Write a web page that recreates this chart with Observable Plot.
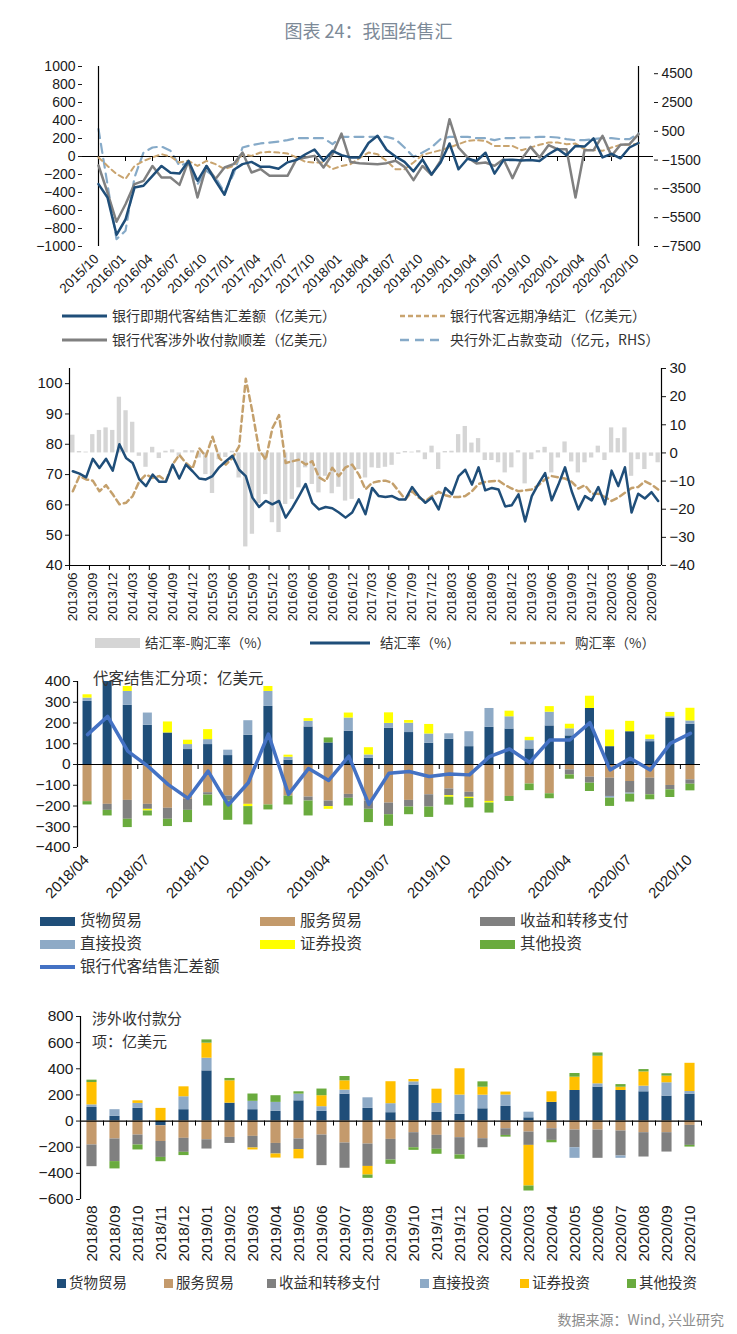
<!DOCTYPE html>
<html><head><meta charset="utf-8">
<script src="https://cdn.jsdelivr.net/npm/d3@7"></script>
<script src="https://cdn.jsdelivr.net/npm/@observablehq/plot@0.6"></script>
<style>
body{margin:0;background:#fff;}
#root{position:relative;width:737px;height:1334px;overflow:hidden;background:#fff;}
.lg{position:absolute;font-family:"Noto Sans CJK SC",sans-serif;color:#333;white-space:nowrap;line-height:1;}
</style></head><body><div id="root"></div>
<script>
// ---------------- DATA ----------------
// Panel 1 (2015/10 - 2020/10, monthly)
const p1TickLabels = ["2015/10","2016/01","2016/04","2016/07","2016/10","2017/01","2017/04","2017/07","2017/10","2018/01","2018/04","2018/07","2018/10","2019/01","2019/04","2019/07","2019/10","2020/01","2020/04","2020/07","2020/10"];
const p1LeftTicks = [-1000,-800,-600,-400,-200,0,200,400,600,800,1000];
const p1RightTicks = [-7500,-5500,-3500,-1500,500,2500,4500];
const p1Spot = [-307,-455,-870,-700,-345,-325,-215,-105,-180,-190,-50,-270,-105,-270,-425,-150,-85,-60,-115,-115,-135,-65,-37,25,78,-48,63,15,-10,-10,
  150,230,75,0,-60,-165,-32,-200,-70,145,-142,-25,-50,42,-190,-40,-35,-45,-40,-50,25,85,15,118,110,202,-10,30,-20,100,150];
const p1Flows = [-100,-400,-725,-530,-307,-270,-105,-233,-233,-315,-48,-455,-105,-250,-122,-85,44,-178,-140,-215,-215,-215,-30,-10,7,-122,26,255,-60,-74,
  -80,-85,-74,-48,-115,-263,-105,-204,-48,415,100,-10,-78,-67,-104,-30,-240,-30,107,-10,126,81,81,-455,70,70,230,7,130,137,248];
const p1Fwd = [-10,-105,-195,-250,-105,-50,-10,26,0,-67,-48,-105,-48,-85,-140,-105,26,7,44,52,44,33,-10,-60,-67,-67,-140,-105,-85,-19,
  44,26,-48,-141,-141,-67,18,44,70,100,137,174,181,174,118,118,118,70,100,130,155,155,137,144,81,70,63,100,130,130,144];
const p1PBoC = [650,-3200,-6990,-6410,-2710,-970,-625,-555,-855,-1900,-1665,-3170,-2245,-2710,-3750,-2475,-625,-465,-345,-280,-210,-115,25,25,25,25,-395,115,115,115,
  115,115,115,-45,-625,-1275,-970,-625,-45,115,115,115,25,25,-115,25,25,70,70,115,115,70,-45,-115,-115,-45,25,25,-45,-45,345];

// Panel 2 (2013/06 - 2020/10, monthly)
const p2TickLabels = ["2013/06","2013/09","2013/12","2014/03","2014/06","2014/09","2014/12","2015/03","2015/06","2015/09","2015/12","2016/03","2016/06","2016/09","2016/12","2017/03","2017/06","2017/09","2017/12","2018/03","2018/06","2018/09","2018/12","2019/03","2019/06","2019/09","2019/12","2020/03","2020/06","2020/09"];
const p2LeftTicks = [40,50,60,70,80,90,100];
const p2RightTicks = [-40,-30,-20,-10,0,10,20,30];
const p2Settle = [71.1,70.3,69.1,75.2,72.2,75.2,71.3,80.0,75.5,73.8,68.4,66.2,70.0,67.6,67.6,73.3,68.7,73.3,71.1,68.7,68.4,69.5,72.4,74.4,76.2,71.6,69.5,62.4,59.3,61.3,60.2,61.3,55.8,59.1,62.9,66.9,60.7,58.5,59.3,58.9,57.5,55.8,57.5,61.8,56.9,65.6,
  62.9,62.6,62.9,61.8,61.8,65.9,62.9,60.7,62.4,58.5,65.6,63.5,69.5,71.6,66.7,72.4,64.8,65.6,65.1,59.5,59.9,63.5,54.5,62.9,66.9,70.5,61.5,66.7,72.4,64.5,58.5,62.9,61.5,65.9,60.2,71.3,66.2,72.4,57.5,63.7,62.1,64.2,61.3];
const p2Purchase = [64.5,69.5,68.4,68.0,64.5,66.5,63.5,60.2,60.7,62.9,67.8,70.0,68.9,69.5,68.0,73.3,76.5,73.8,72.0,78.7,76.0,82.5,75.5,73.3,75.5,79.3,101.6,90.7,78.2,74.9,85.3,89.6,73.8,74.4,74.9,73.3,74.4,69.1,67.8,72.2,69.5,72.4,73.3,70.0,65.1,67.3,
  67.8,68.0,67.3,64.5,61.8,64.5,62.4,61.3,62.9,64.3,63.2,62.6,62.6,62.9,64.5,66.9,67.6,67.8,68.0,66.5,65.4,64.5,64.8,65.1,66.5,68.4,69.5,69.1,68.7,67.6,65.4,66.5,63.7,63.7,62.6,61.3,62.4,64.0,65.6,65.9,67.8,66.7,65.1];
const p2Diff = [6.3,0.5,0.3,6.5,8.0,8.9,8.0,19.8,15.0,10.9,-1.2,-5.1,2.0,-2.0,0.6,1.1,-1.2,0.8,0.8,-1.8,-7.7,-14.4,-2.4,-1.6,0.6,-8.9,-33.4,-28.9,-18.0,-14.8,-24.8,-28.3,-18.3,-16.5,-12.4,-5.3,-11.2,-14.2,-8.3,-14.5,-12.2,-17.1,-16.5,-5.9,-8.9,
  -5.3,-5.5,-5.1,-4.4,-0.5,0.5,0.3,0.8,-2.4,2.4,-5.9,0.5,0.6,6.5,9.4,3.5,5.1,-2.7,-2.7,-3.5,-7.1,-5.3,0.8,-11.0,-2.4,0.8,2.0,-7.1,-1.8,3.9,-3.2,-7.1,-3.5,-1.8,2.4,-2.7,8.9,5.1,8.9,-8.3,-2.4,-5.9,-1.2,-3.5];

// Panel 3 (2018/04 - 2020/10, monthly)
const p3TickLabels = ["2018/04","2018/07","2018/10","2019/01","2019/04","2019/07","2019/10","2020/01","2020/04","2020/07","2020/10"];
const p3YTicks = [-400,-300,-200,-100,0,100,200,300,400];
const p3Series = ["货物贸易","服务贸易","收益和转移支付","直接投资","证券投资","其他投资"];
const p3Colors = ["#1f4e79","#c39a6b","#808080","#8eaac6","#ffff00","#6aab3e"];
const p3Goods = [304,400,285,189,152,72,96,43,141,280,21,181,104,160,30,174,154,102,122,86,179,171,75,186,138,270,86,158,110,222,194];
const p3Services = [-179,-192,-173,-192,-211,-168,-136,-152,-192,-195,-152,-157,-176,-144,-176,-186,-173,-146,-118,-134,-178,-154,-94,-141,-26,-61,-66,-82,-66,-101,-74];
const p3Income = [0,-29,-91,-24,-53,-53,-11,-24,0,0,0,-19,-27,-19,-40,-56,-32,-59,-32,-24,0,0,0,0,-24,-29,-88,-56,-80,-21,-21];
const p3FDI = [16,0,67,59,0,24,24,26,70,72,14,27,0,64,16,24,45,45,26,72,91,59,40,66,34,0,-8,-5,11,8,16];
const p3Portfolio = [16,0,24,-8,53,21,48,0,-11,24,10,13,-13,24,35,51,13,46,-8,-6,-8,27,16,27,22,59,80,50,21,21,61];
const p3Other = [-16,-27,-40,-24,-35,-59,-53,-93,-88,-24,-43,-72,24,-37,-64,-56,-37,-50,-38,-45,-48,-24,-32,-24,-21,-40,-40,-38,-24,-37,-32];
const p3Net = [144,232,64,-8,-96,-163,-32,-195,-88,147,-144,-19,-77,40,-192,-42,-34,-58,-46,-50,38,75,10,118,118,202,-26,30,-26,102,150];

// Panel 4 (2018/08 - 2020/10, monthly)
const p4YTicks = [-600,-400,-200,0,200,400,600,800];
const p4Colors = ["#1f4e79","#c49a6c","#808080","#8eaac6","#ffc000","#6aab3e"];
const p4Goods = [104,36,97,-36,87,384,137,87,74,155,74,206,97,64,275,66,51,94,112,25,143,234,260,234,224,191,206];
const p4Services = [-183,-137,-107,-120,-132,-143,-125,-117,-171,-137,-107,-168,-176,-140,-89,-109,-127,-135,-59,-84,-59,-69,-69,-76,-89,-89,-33];
const p4Income = [-166,-173,-76,-122,-107,-71,-46,-89,-81,-81,-234,-193,-171,-158,-115,-107,-132,-69,-51,-102,-89,-135,-216,-191,-186,-148,-153];
const p4FDI = [20,51,38,0,99,97,0,64,69,51,36,31,81,69,25,69,148,104,87,43,0,-81,25,-18,43,102,20];
const p4Portfolio = [171,0,20,97,76,115,171,-15,-31,-71,84,71,-66,168,18,109,201,61,23,-311,81,102,211,25,109,51,216];
const p4Other = [18,-56,-38,-33,-25,25,18,56,51,18,51,33,-25,-33,-20,-38,-33,41,-13,-38,-18,28,25,20,18,18,-13];

// ---------------- HELPERS ----------------
function monthRange(a, b) {
  const out = []; let [y, m] = a.split("/").map(Number); const [ey, em] = b.split("/").map(Number);
  while (y < ey || (y === ey && m <= em)) { out.push(y + "/" + String(m).padStart(2, "0")); m++; if (m > 12) { m = 1; y++; } }
  return out;
}
const root = document.getElementById("root");
const W = 737;
const numFont = "'Liberation Sans', Arial, sans-serif";
const fmt = d3.format("d");
function put(el, left, top) { el.style.position = "absolute"; el.style.left = left + "px"; el.style.top = top + "px"; root.appendChild(el); return el; }
function text(x, y, str, fs, extra = {}) {
  const d = document.createElement("div"); d.className = "lg"; d.textContent = str;
  d.style.fontSize = fs + "px"; d.style.left = x + "px"; d.style.top = (y - fs * 0.55) + "px";
  Object.assign(d.style, extra); root.appendChild(d); return d;
}
function swLine(x, y, w, color, sw, dash) {
  const ns = "http://www.w3.org/2000/svg";
  const s = document.createElementNS(ns, "svg"); s.setAttribute("width", w); s.setAttribute("height", 10);
  s.style.position = "absolute"; s.style.left = x + "px"; s.style.top = (y - 5) + "px";
  const l = document.createElementNS(ns, "line"); l.setAttribute("x1", 0); l.setAttribute("x2", w); l.setAttribute("y1", 5); l.setAttribute("y2", 5);
  l.setAttribute("stroke", color); l.setAttribute("stroke-width", sw); if (dash) l.setAttribute("stroke-dasharray", dash);
  s.appendChild(l); root.appendChild(s);
}
function swRect(x, y, w, h, color) {
  const d = document.createElement("div"); d.style.position = "absolute"; d.style.left = x + "px"; d.style.top = (y - h / 2) + "px";
  d.style.width = w + "px"; d.style.height = h + "px"; d.style.background = color; root.appendChild(d);
}
const baseStyle = (fs) => ({background: "transparent", fontFamily: numFont, fontSize: fs + "px", color: "#1a1a1a", overflow: "visible"});

// ---------------- TITLE ----------------
text(0, 31, "图表 24：我国结售汇", 18, {width: W + "px", textAlign: "center", color: "#7d8a98"});

// ---------------- PANEL 1 ----------------
const p1Months = monthRange("2015/10", "2020/10");
const p1Rows = p1Months.map((m, i) => ({m, spot: p1Spot[i], flows: p1Flows[i], fwd: p1Fwd[i], pboc: p1PBoC[i]}));
const P1 = {top: 50, h: 250, ml: 82, mr: 84, mt: 16, mb: 54};
const p1Right = Plot.plot({
  width: W, height: P1.h, marginTop: P1.mt, marginBottom: P1.mb, marginLeft: P1.ml, marginRight: P1.mr,
  style: baseStyle(14),
  x: {type: "point", domain: p1Months, axis: null},
  y: {domain: [-7500, 5000], ticks: p1RightTicks, tickFormat: fmt, axis: "right", tickSize: 4, tickPadding: 4, label: null},
  marks: [
    Plot.ruleX([p1Months[p1Months.length - 1]], {stroke: "#000", strokeWidth: 1.2}),
    Plot.line(p1Rows, {x: "m", y: "pboc", stroke: "#86aac8", strokeWidth: 2.2, strokeDasharray: "9,6"})
  ]
});
put(p1Right, 0, P1.top);
const p1Left = Plot.plot({
  width: W, height: P1.h, marginTop: P1.mt, marginBottom: P1.mb, marginLeft: P1.ml, marginRight: P1.mr,
  style: baseStyle(14),
  x: {type: "point", domain: p1Months, axis: null},
  y: {domain: [-1000, 1000], ticks: p1LeftTicks, tickFormat: fmt, tickSize: 4, tickPadding: 3, label: null},
  marks: [
    Plot.ruleX([p1Months[0]], {stroke: "#000", strokeWidth: 1.2}),
    Plot.ruleY([0], {stroke: "#000", strokeWidth: 1.2}),
    Plot.ruleX(p1TickLabels, {y1: 0, y2: 0, insetBottom: -5, stroke: "#000"}),
    Plot.text(p1TickLabels, {x: d => d, y: -1000, text: d => d, rotate: -45, textAnchor: "end", dy: 10, dx: -2, fontSize: 13.5, fill: "#1a1a1a"}),
    Plot.line(p1Rows, {x: "m", y: "fwd", stroke: "#c9a46f", strokeWidth: 2, strokeDasharray: "5,4"}),
    Plot.line(p1Rows, {x: "m", y: "flows", stroke: "#808080", strokeWidth: 2.5}),
    Plot.line(p1Rows, {x: "m", y: "spot", stroke: "#1f4e79", strokeWidth: 2.5})
  ]
});
put(p1Left, 0, P1.top);
// legend 1
swLine(62, 316, 45, "#1f4e79", 3);
text(112, 316, "银行即期代客结售汇差额（亿美元）", 14);
swLine(400, 316, 45, "#c9a46f", 2.5, "5,3");
text(450, 316, "银行代客远期净结汇（亿美元）", 14);
swLine(62, 340, 45, "#808080", 3);
text(112, 340, "银行代客涉外收付款顺差（亿美元）", 14);
swLine(400, 340, 45, "#86aac8", 2.5, "9,6");
text(450, 340, "央行外汇占款变动（亿元，RHS）", 14);

// ---------------- PANEL 2 ----------------
const p2Months = monthRange("2013/06", "2020/10");
const p2Rows = p2Months.map((m, i) => ({m, settle: p2Settle[i], purchase: p2Purchase[i], diff: p2Diff[i]}));
const P2 = {top: 360, h: 270, ml: 69, mr: 76, mt: 8, mb: 65};
const p2Step = (W - P2.ml - P2.mr) / p2Months.length;
const xb2 = {type: "band", domain: p2Months, paddingInner: 0.35, paddingOuter: 0.175, round: false};
const p2Right = Plot.plot({
  width: W, height: P2.h, marginTop: P2.mt, marginBottom: P2.mb, marginLeft: P2.ml, marginRight: P2.mr,
  style: baseStyle(15),
  x: {...xb2, axis: null},
  y: {domain: [-40, 30], ticks: p2RightTicks, tickFormat: fmt, axis: "right", tickSize: 4, tickPadding: 4, label: null},
  marks: [
    Plot.barY(p2Rows, {x: "m", y: "diff", fill: "#d5d5d5"}),
    Plot.ruleX([p2Months[p2Months.length - 1]], {dx: p2Step / 2, stroke: "#000", strokeWidth: 1.2})
  ]
});
put(p2Right, 0, P2.top);
const p2Left = Plot.plot({
  width: W, height: P2.h, marginTop: P2.mt, marginBottom: P2.mb, marginLeft: P2.ml, marginRight: P2.mr,
  style: baseStyle(15),
  x: {...xb2, axis: null},
  y: {domain: [40, 105], ticks: p2LeftTicks, tickFormat: fmt, tickSize: 4, tickPadding: 3, label: null},
  marks: [
    Plot.ruleX([p2Months[0]], {dx: -p2Step / 2, stroke: "#000", strokeWidth: 1.2}),
    Plot.ruleY([40], {stroke: "#000", strokeWidth: 1.2}),
    Plot.ruleX(p2TickLabels, {y1: 40, y2: 40, insetBottom: -5, dx: -p2Step / 2, stroke: "#000"}),
    Plot.text(p2TickLabels, {x: d => d, y: 40, text: d => d, rotate: -90, textAnchor: "end", dy: 7, fontSize: 13.5, fill: "#1a1a1a"}),
    Plot.line(p2Rows, {x: "m", y: "purchase", stroke: "#c4a06c", strokeWidth: 2.5, strokeDasharray: "6,4"}),
    Plot.line(p2Rows, {x: "m", y: "settle", stroke: "#1f4e79", strokeWidth: 2.5})
  ]
});
put(p2Left, 0, P2.top);
// legend 2
swRect(95, 643, 45, 10, "#d5d5d5");
text(145, 643, "结汇率-购汇率（%）", 13.5);
swLine(310, 643, 60, "#1f4e79", 3);
text(380, 643, "结汇率（%）", 13.5);
swLine(510, 643, 55, "#c4a06c", 2.5, "6,4");
text(575, 643, "购汇率（%）", 13.5);

// ---------------- PANEL 3 ----------------
const p3Months = monthRange("2018/04", "2020/10");
const p3Arrays = [p3Goods, p3Services, p3Income, p3FDI, p3Portfolio, p3Other];
const p3Rows = p3Series.flatMap((s, k) => p3Months.map((m, i) => ({m, s, v: p3Arrays[k][i]})));
const p3Line = p3Months.map((m, i) => ({m, v: p3Net[i]}));
const P3 = {top: 665, h: 235, ml: 77, mr: 37, mt: 16, mb: 53};
const p3Step = (W - P3.ml - P3.mr) / p3Months.length;
const p3 = Plot.plot({
  width: W, height: P3.h, marginTop: P3.mt, marginBottom: P3.mb, marginLeft: P3.ml, marginRight: P3.mr,
  style: baseStyle(15.5),
  x: {type: "band", domain: p3Months, paddingInner: 0.55, paddingOuter: 0.275, round: false, axis: null},
  y: {domain: [-400, 400], ticks: p3YTicks, tickFormat: fmt, tickSize: 4, tickPadding: 3, label: null},
  color: {domain: p3Series, range: p3Colors},
  marks: [
    Plot.barY(p3Rows, {x: "m", y: "v", fill: "s"}),
    Plot.ruleX([p3Months[0]], {dx: -p3Step / 2, stroke: "#000", strokeWidth: 1.2}),
    Plot.ruleY([0], {stroke: "#000", strokeWidth: 1.2}),
    Plot.ruleX(p3TickLabels, {y1: 0, y2: 0, insetBottom: -5, dx: -p3Step / 2, stroke: "#000"}),
    Plot.text(p3TickLabels, {x: d => d, y: -400, text: d => d, rotate: -45, textAnchor: "end", dy: 10, dx: -1, fontSize: 15, fill: "#1a1a1a"}),
    Plot.line(p3Line, {x: "m", y: "v", stroke: "#4472c4", strokeWidth: 3.5})
  ]
});
put(p3, 0, P3.top);
text(93, 679, "代客结售汇分项：亿美元", 15.5);
// legend 3
const lg3 = [[40, 921], [260, 921], [480, 921], [40, 944], [260, 944], [480, 944]];
p3Series.forEach((s, k) => { swRect(lg3[k][0], lg3[k][1], 35, 9, p3Colors[k]); text(lg3[k][0] + 40, lg3[k][1], s, 15.5); });
swLine(40, 967, 35, "#4472c4", 4);
text(80, 967, "银行代客结售汇差额", 15.5);

// ---------------- PANEL 4 ----------------
const p4Months = monthRange("2018/08", "2020/10");
const p4Arrays = [p4Goods, p4Services, p4Income, p4FDI, p4Portfolio, p4Other];
const p4Rows = p3Series.flatMap((s, k) => p4Months.map((m, i) => ({m, s, v: p4Arrays[k][i]})));
const P4 = {top: 1000, h: 275, ml: 80, mr: 36, mt: 16, mb: 76};
const p4Step = (W - P4.ml - P4.mr) / p4Months.length;
const p4 = Plot.plot({
  width: W, height: P4.h, marginTop: P4.mt, marginBottom: P4.mb, marginLeft: P4.ml, marginRight: P4.mr,
  style: baseStyle(15.5),
  x: {type: "band", domain: p4Months, paddingInner: 0.56, paddingOuter: 0.28, round: false, tickSize: 0, tickRotate: -90, tickPadding: 6, label: null},
  y: {domain: [-600, 800], ticks: p4YTicks, tickFormat: fmt, tickSize: 4, tickPadding: 3, label: null},
  color: {domain: p3Series, range: p4Colors},
  marks: [
    Plot.barY(p4Rows, {x: "m", y: "v", fill: "s"}),
    Plot.ruleX([p4Months[0]], {dx: -p4Step / 2, stroke: "#000", strokeWidth: 1.2}),
    Plot.ruleY([0], {stroke: "#000", strokeWidth: 1.2}),
    Plot.ruleX(p4Months, {y1: 0, y2: 0, insetBottom: -5, dx: -p4Step / 2, stroke: "#000"}),
    Plot.ruleX([p4Months[p4Months.length - 1]], {y1: 0, y2: 0, insetBottom: -5, dx: p4Step / 2, stroke: "#000"})
  ]
});
put(p4, 0, P4.top);
text(92, 1018, "涉外收付款分", 15);
text(92, 1041, "项：亿美元", 15);
// legend 4
const lg4x = [57, 164, 267, 420, 520, 627];
p3Series.forEach((s, k) => { swRect(lg4x[k], 1283, 9, 9, p4Colors[k]); text(lg4x[k] + 12, 1283, s, 14.5); });
// source
text(0, 1320, "数据来源：Wind, 兴业研究", 14, {width: "724px", textAlign: "right", color: "#8c8c8c"});
</script></body></html>
